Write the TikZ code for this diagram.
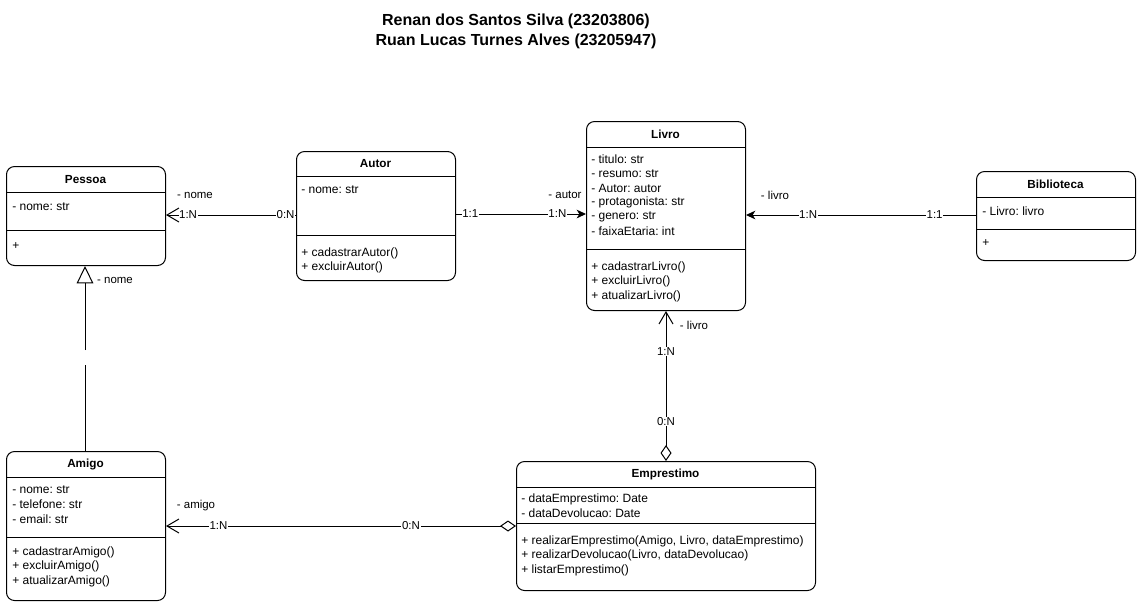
\documentclass[tikz,border=0pt]{standalone}
\usepackage{fontspec}
\setmainfont{Liberation Sans}
\usetikzlibrary{arrows.meta}
\frenchspacing
\begin{document}
\begin{tikzpicture}[x=0.75pt,y=-0.75pt,
  cls/.style 2 args={draw, line width=0.75pt, rounded corners=6pt, inner sep=0pt,
     minimum width=#1*0.75pt, minimum height=#2*0.75pt, anchor=north west},
  hdr/.style={font=\fontsize{8.8}{10}\selectfont\bfseries, inner sep=0pt},
  txt/.style={font=\fontsize{9}{10}\selectfont, inner sep=0pt, anchor=west},
  div/.style={line width=0.75pt},
  lbl/.style={font=\fontsize{8.6}{10}\selectfont, inner sep=0.5pt, fill=white},
  rl/.style={font=\fontsize{8.6}{10}\selectfont, inner sep=0pt},
  conn/.style={line width=0.75pt},
  openarr/.style={-{Straight Barb[length=9pt,width=10.5pt,line width=0.75pt]}},
  fillarr/.style={-{Stealth[length=7pt,width=6.5pt,inset=2pt]}},
  diamopen/.style={arrows={{Diamond[open,fill=white,length=12pt,width=8.25pt,line width=0.75pt]}-{Straight Barb[length=9pt,width=10.5pt,line width=0.75pt]}}},
  tri/.style={-{Triangle[open,fill=white,length=13pt,width=12.5pt,line width=0.75pt]}},
  ttl/.style={font=\fontsize{12}{15}\selectfont\bfseries, inner sep=0pt}
]
\useasboundingbox (0,0) rectangle (1141,608);

% Title
\node[ttl] (t1) at (516,21) {Renan dos Santos Silva (23203806)};
\node[ttl] (t2) at (516,41) {Ruan Lucas Turnes Alves (23205947)};

% Pessoa
\node[cls={159}{99}] (pessoa) at (6,166) {};
\draw[div] (6,192) -- (165,192);
\draw[div] (6,230) -- (165,230);
\node[hdr] (pessoah) at (85.5,180) {Pessoa};
\node[txt] (pessoaa) at (12,207) {- nome: str};
\node[txt] (pessoam) at (12,246) {+};

% Autor
\node[cls={159}{129}] (autor) at (296,151) {};
\draw[div] (296,176) -- (455,176);
\draw[div] (296,235) -- (455,235);
\node[hdr] (autorh) at (375.5,164) {Autor};
\node[txt] (autora) at (301,190) {- nome: str};
\foreach \t [count=\i from 0] in {+ cadastrarAutor(), + excluirAutor()}
  \node[txt] (autorm\i) at (301,253+14.5*\i) {\t};

% Livro
\node[cls={159}{189}] (livro) at (586,121) {};
\draw[div] (586,147) -- (745,147);
\draw[div] (586,249) -- (745,249);
\node[hdr] (livroh) at (665.5,134) {Livro};
\foreach \t [count=\i from 0] in {- titulo: str, - resumo: str, - Autor: autor, - protagonista: str, - genero: str, - faixaEtaria: int}
  \node[txt] (livroa\i) at (591,159+14.5*\i) {\t};
\foreach \t [count=\i from 0] in {+ cadastrarLivro(), + excluirLivro(), + atualizarLivro()}
  \node[txt] (livrom\i) at (591,267+14.5*\i) {\t};

% Biblioteca
\node[cls={159}{89}] (biblio) at (976,171) {};
\draw[div] (976,197) -- (1135,197);
\draw[div] (976,229) -- (1135,229);
\node[hdr] (biblioh) at (1055.5,184) {Biblioteca};
\node[txt] (biblioa) at (982,211) {- Livro: livro};
\node[txt] (bibliom) at (982,243) {+};

% Amigo
\node[cls={159}{149}] (amigo) at (6,451) {};
\draw[div] (6,477) -- (165,477);
\draw[div] (6,537) -- (165,537);
\node[hdr] (amigoh) at (85.5,464) {Amigo};
\foreach \t [count=\i from 0] in {- nome: str, - telefone: str, - email: str}
  \node[txt] (amigoa\i) at (12,490+14.5*\i) {\t};
\foreach \t [count=\i from 0] in {+ cadastrarAmigo(), + excluirAmigo(), + atualizarAmigo()}
  \node[txt] (amigom\i) at (12,552+14.5*\i) {\t};

% Emprestimo
\node[cls={299}{129}] (empr) at (516,461) {};
\draw[div] (516,487) -- (815,487);
\draw[div] (516,523) -- (815,523);
\node[hdr] (emprh) at (665.5,474) {Emprestimo};
\foreach \t [count=\i from 0] in {- dataEmprestimo: Date, - dataDevolucao: Date}
  \node[txt] (empra\i) at (521,499+14.5*\i) {\t};
\foreach \t [count=\i from 0] in {{+ realizarEmprestimo(Amigo, Livro, dataEmprestimo)}, {+ realizarDevolucao(Livro, dataDevolucao)}, + listarEmprestimo()}
  \node[txt] (emprm\i) at (521,541+14.5*\i) {\t};

% Connectors
% Autor -> Pessoa
\draw[conn,openarr] (autor.west |- 0,215) -- (pessoa.east |- 0,215)
  node[lbl,pos=0.08] (l1a) {0:N} node[lbl,pos=0.83] (l1b) {1:N};
\node[rl] (l1c) at (195,195) {- nome};

% Autor -> Livro
\draw[conn,fillarr] (autor.east |- 0,214) -- (livro.west |- 0,214)
  node[lbl,pos=0.11] (l2a) {1:1} node[lbl,pos=0.78] (l2b) {1:N};
\node[rl] (l2c) at (565,195) {- autor};

% Biblioteca -> Livro
\draw[conn,fillarr] (biblio.west |- 0,215) -- (livro.east |- 0,215)
  node[lbl,pos=0.18] (l3a) {1:1} node[lbl,pos=0.73] (l3b) {1:N};
\node[rl] (l3c) at (775,195) {- livro};

% Emprestimo -> Livro
\draw[conn,diamopen] (empr.north) -- (livro.south)
  node[lbl,pos=0.265] (l4a) {0:N} node[lbl,pos=0.73] (l4b) {1:N};
\node[rl] (l4c) at (694,325) {- livro};

% Emprestimo -> Amigo
\draw[conn,diamopen] (empr.west |- 0,526) -- (amigo.east |- 0,526)
  node[lbl,pos=0.3] (l5a) {0:N} node[lbl,pos=0.85] (l5b) {1:N};
\node[rl] (l5c) at (196,506) {- amigo};

% Amigo -> Pessoa (inheritance, with a gap)
\coordinate (gapb) at (85,365);
\coordinate (gapt) at (85,350);
\draw[conn] (amigo.north -| 85,0) -- (gapb);
\draw[conn,tri] (gapt) -- (pessoa.south -| 85,0);
\node[rl] (l6c) at (115,280) {- nome};

\end{tikzpicture}
\end{document}
